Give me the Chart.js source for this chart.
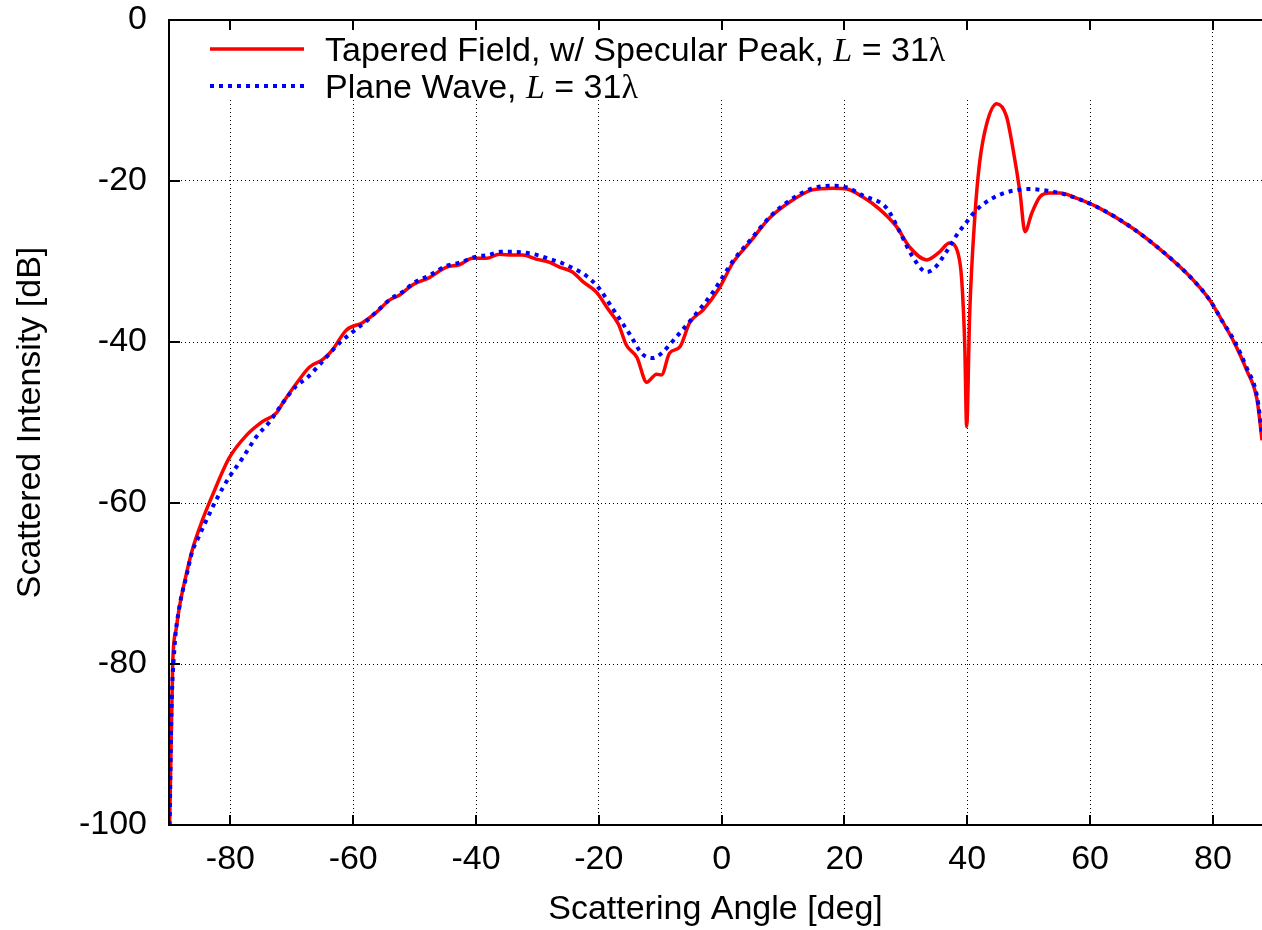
<!DOCTYPE html>
<html>
<head>
<meta charset="utf-8">
<script src="https://cdn.jsdelivr.net/npm/chart.js@4/dist/chart.umd.min.js"></script>
<style>
  body { margin: 0; background: #fff; }
  canvas { display: block; }
</style>
</head>
<body>
<canvas id="scatterChart" width="1262" height="930"></canvas>
<script>
// tapered field (red)
const redAngles = [-89.9, -89.7, -89.4, -88.8, -88.3, -87.2, -86.2, -84.6, -82.9, -80.2,
  -77.4, -74.8, -72.5, -71.5, -69.2, -67.1, -65, -63.4, -61.1, -58.5,
  -56.2, -54.1, -52.5, -50.3, -47.6, -44.8, -42.7, -40.6, -38.3, -36.2,
  -34.1, -32.4, -30.2, -28, -26.4, -24.3, -22.6, -20.4, -18.5, -16.8,
  -15.5, -13.8, -12.2, -10.6, -9.8, -8.5, -6.8, -5.2, -3, -0.3,
  1.8, 4.6, 7.8, 11.1, 14.8, 18.1, 20.4, 23, 25.7, 28.5,
  30.6, 33.4, 35.5, 37.1, 38.5, 39.1, 39.6, 39.9, 40.4, 41.2,
  42, 43.2, 44.8, 46.4, 47.4, 48.6, 49.4, 50.5, 51.8, 53.4,
  55.1, 58, 61.6, 67, 72.5, 76.3, 79.5, 81.6, 83.3, 85.5, 87.2, 88];
const redValues = [-100, -92, -80, -75.5, -72.9, -68.9, -65.8, -62.2, -59, -54.4,
  -51.6, -49.9, -48.8, -47.6, -45.1, -43.1, -42.2, -41, -38.5, -37.6,
  -36.3, -34.8, -34.2, -32.9, -32, -30.7, -30.4, -29.6, -29.6, -29.1,
  -29.2, -29.2, -29.7, -30.1, -30.7, -31.3, -32.5, -33.8, -35.9, -37.8,
  -40.4, -41.9, -45, -44, -44.1, -41.4, -40.6, -37.6, -36, -33.2,
  -30.2, -27.6, -24.6, -22.6, -21.1, -20.9, -21, -22, -23.5, -25.7,
  -28.2, -29.8, -28.8, -27.7, -29, -32.3, -40.6, -50.5, -36.4, -24.8,
  -17.8, -12.8, -10.4, -12, -15.8, -21.5, -26.3, -24, -22, -21.5,
  -21.5, -22.2, -23.4, -25.9, -29.2, -31.9, -34.8, -37.5, -39.8, -43.5, -47.2, -52.2];

// plane wave (blue)
const blueAngles = [-89.9, -89.6, -89.1, -88.3, -87.2, -86.2, -85.1, -83.7, -82.3, -80.2,
  -78, -75.8, -73.6, -71.5, -69.2, -67.6, -64.4, -62.2, -60, -58,
  -56, -54, -52, -50, -47.5, -45, -42.5, -40, -38, -36,
  -34, -32, -30, -28, -26, -24, -22, -20, -17.7, -15,
  -12.9, -11.2, -9.8, -7.3, -4.4, -1.5, 1.8, 4.6, 7.8, 11.1,
  14.8, 18.1, 20.4, 23, 26.9, 29, 31.1, 33.4, 34.7, 36.6,
  38.3, 39.9, 41.5, 44.2, 46.9, 50.2, 53, 55.1, 58, 61.6,
  67, 72.5, 76.3, 79.5, 81.6, 83.3, 85.5, 87.2, 88];
const blueValues = [-100, -86, -77.9, -72.9, -69.2, -66, -64.1, -61.8, -59.6, -56.8,
  -54.4, -51.8, -49.9, -47.6, -45.4, -44.5, -41.9, -40.1, -38.7, -37.5,
  -36.1, -34.7, -33.8, -32.6, -31.7, -30.6, -30.1, -29.4, -29.2, -28.8,
  -28.8, -28.9, -29.2, -29.7, -30.2, -30.9, -31.8, -33.3, -35.9, -39,
  -41.5, -42, -41.4, -39.3, -36.7, -33.9, -30, -27.4, -24.5, -22.4,
  -20.9, -20.6, -20.8, -21.8, -23.4, -26.3, -29.4, -31.3, -30.8, -28.8,
  -26.7, -25.1, -23.6, -22.1, -21.3, -21, -21.2, -21.5, -22.2, -23.4,
  -25.9, -29.2, -31.9, -34.8, -37.5, -39.6, -43.2, -46.8, -51.5];

const xTicks = [-80, -60, -40, -20, 0, 20, 40, 60, 80];
const yTicks = [-100, -80, -60, -40, -20, 0];

const toPoints = (xs, ys) => xs.map((x, i) => ({ x: x, y: ys[i] }));

const SANS = '"Liberation Sans", Arial, sans-serif';
const SERIF = '"Liberation Serif", "Times New Roman", serif';

// gnuplot-ish frame, inward ticks and key
const framePlugin = {
  id: 'frame',
  beforeDatasetsDraw(chart) {
    const ctx = chart.ctx;
    // key box hides the grid behind it
    ctx.save();
    ctx.fillStyle = '#fff';
    ctx.fillRect(175, 21, 925, 79);
    ctx.restore();
  },
  afterDraw(chart) {
    const ctx = chart.ctx;
    const a = chart.chartArea;
    const xs = chart.scales.x;
    const ys = chart.scales.y;
    ctx.save();
    ctx.strokeStyle = '#000';
    ctx.lineWidth = 2;
    ctx.beginPath();
    ctx.moveTo(a.right + 2, a.top);
    ctx.lineTo(a.left, a.top);
    ctx.lineTo(a.left, a.bottom);
    ctx.lineTo(a.right + 2, a.bottom);
    ctx.stroke();
    ctx.beginPath();
    xTicks.forEach(v => {
      const px = Math.round(xs.getPixelForValue(v));
      ctx.moveTo(px, a.bottom);
      ctx.lineTo(px, a.bottom - 10);
      ctx.moveTo(px, a.top);
      ctx.lineTo(px, a.top + 10);
    });
    yTicks.forEach(v => {
      const py = Math.round(ys.getPixelForValue(v));
      ctx.moveTo(a.left, py);
      ctx.lineTo(a.left + 11, py);
    });
    ctx.stroke();

    // key
    const rows = [
      { text: 'Tapered Field, w/ Specular Peak, ', color: '#ff0000', dash: [], y: 49 },
      { text: 'Plane Wave, ', color: '#0000ff', dash: [4, 5], y: 86 }
    ];
    rows.forEach(r => {
      ctx.strokeStyle = r.color;
      ctx.lineWidth = r.dash.length ? 4 : 3.5;
      ctx.setLineDash(r.dash);
      ctx.beginPath();
      ctx.moveTo(210, r.y);
      ctx.lineTo(304, r.y);
      ctx.stroke();
      ctx.setLineDash([]);

      ctx.fillStyle = '#000';
      ctx.textBaseline = 'alphabetic';
      ctx.textAlign = 'left';
      let x = 325;
      const base = r.y + 12;
      const parts = [
        [r.text, '34px ' + SANS],
        ['L', 'italic 34px ' + SERIF],
        [' = 31', '34px ' + SANS],
        ['\u03BB', '34px ' + SERIF]
      ];
      parts.forEach(p => {
        ctx.font = p[1];
        ctx.fillText(p[0], x, base);
        x += ctx.measureText(p[0]).width;
      });
    });
    ctx.restore();
  }
};

const ctx = document.getElementById('scatterChart').getContext('2d');
new Chart(ctx, {
  type: 'line',
  data: {
    datasets: [
      {
        label: 'Plane Wave, L = 31\u03BB',
        data: toPoints(blueAngles, blueValues),
        borderColor: '#0000ff',
        borderWidth: 4,
        borderDash: [4, 5],
        borderCapStyle: 'butt',
        cubicInterpolationMode: 'monotone',
        pointRadius: 0,
        fill: false,
        order: 0,
      },
      {
        label: 'Tapered Field, w/ Specular Peak, L = 31\u03BB',
        data: toPoints(redAngles, redValues),
        borderColor: '#ff0000',
        borderWidth: 3.5,
        cubicInterpolationMode: 'monotone',
        pointRadius: 0,
        fill: false,
        order: 1,
      },
    ],
  },
  options: {
    responsive: false,
    animation: false,
    layout: { padding: { top: 20, right: 0, left: 0, bottom: 0 } },
    plugins: {
      legend: { display: false },
      tooltip: { enabled: false },
    },
    scales: {
      x: {
        type: 'linear',
        min: -90,
        max: 88,
        afterBuildTicks: (axis) => { axis.ticks = xTicks.map(v => ({ value: v })); },
        afterFit: (axis) => {
          axis.height = 105;
          axis.paddingLeft = 0;
          axis.paddingRight = 0;
        },
        grid: { color: '#000', lineWidth: 1, drawTicks: false },
        border: { display: false, dash: [1, 3] },
        ticks: {
          color: '#000',
          padding: 14,
          maxRotation: 0,
          font: { family: SANS, size: 34 },
        },
        title: {
          display: true,
          text: 'Scattering Angle [deg]',
          color: '#000',
          padding: { top: 4, bottom: 0 },
          font: { family: SANS, size: 34 },
        },
      },
      y: {
        min: -100,
        max: 0,
        afterBuildTicks: (axis) => { axis.ticks = yTicks.map(v => ({ value: v })); },
        afterFit: (axis) => {
          axis.width = 169;
          axis.paddingTop = 0;
          axis.paddingBottom = 0;
        },
        grid: { color: '#000', lineWidth: 1, drawTicks: false },
        border: { display: false, dash: [1, 3] },
        ticks: {
          color: '#000',
          padding: 22,
          font: { family: SANS, size: 34 },
        },
        title: {
          display: true,
          text: 'Scattered Intensity [dB]',
          color: '#000',
          padding: { top: 10, bottom: 4 },
          font: { family: SANS, size: 34 },
        },
      },
    },
  },
  plugins: [framePlugin],
});
</script>
</body>
</html>
